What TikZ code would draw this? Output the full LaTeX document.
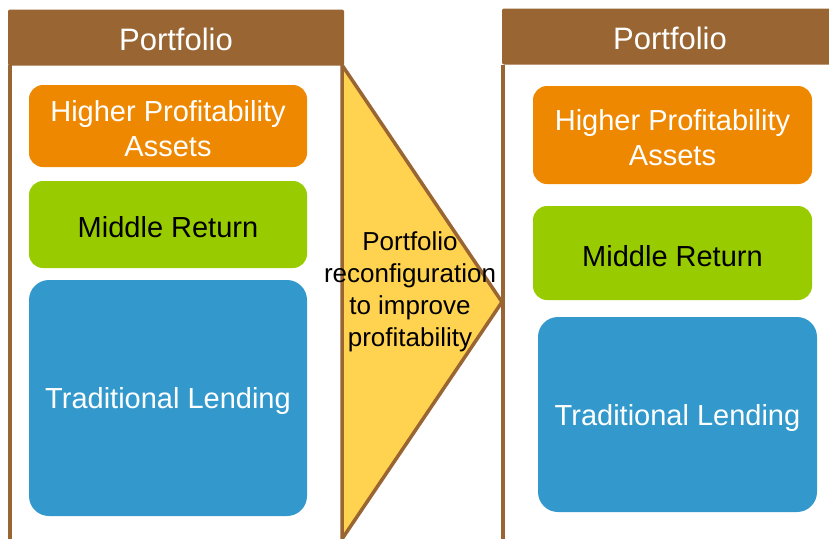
\documentclass[tikz,border=0pt]{standalone}
\usepackage{fontspec}
\setmainfont{Liberation Sans}
\definecolor{brownc}{HTML}{996633}
\definecolor{orangec}{HTML}{EE8800}
\definecolor{greenc}{HTML}{99CC00}
\definecolor{bluec}{HTML}{3399CC}
\definecolor{yellowc}{HTML}{FFD24F}
\begin{document}
\begin{tikzpicture}[x=1pt,y=-1pt,
  hdr/.style={fill=brownc, draw=none, rounded corners=2pt, minimum width=336pt, minimum height=56pt, inner sep=0pt},
  hdrtxt/.style={text=white, font=\fontsize{31}{36}\selectfont, inner sep=0pt},
  item/.style={draw=none, rounded corners=14pt, minimum width=278pt, inner sep=0pt},
  itxt/.style={align=center, inner sep=0pt, font=\fontsize{29}{35}\selectfont},
  border/.style={draw=brownc, line width=3.5pt}
]
\useasboundingbox (0,0) rectangle (829,538);
\begin{scope}
\clip (0,0) rectangle (829,538);
% left panel
\node[hdr] (hdrL) at (176,37.5) {};
\node[hdrtxt] (hdrLt) at ([yshift=-2pt]hdrL.center) {Portfolio};
\coordinate (lTop) at (10,65);
\coordinate (lBot) at (10,545);
\draw[border] (lTop) -- (lBot);
\node[item, fill=orangec, minimum height=82pt] (oL) at (168,126) {};
\node[itxt, text=white] (oLt) at ([yshift=-3pt]oL.center) {Higher Profitability\\Assets};
\node[item, fill=greenc, minimum height=87pt] (gL) at (168,224.5) {};
\node[itxt, text=black] (gLt) at ([yshift=-3pt]gL.center) {Middle Return};
\node[item, fill=bluec, minimum height=236pt, rounded corners=20pt] (bL) at (168,398) {};
\node[itxt, text=white] (bLt) at ([yshift=-3pt]bL.center) {Traditional Lending};
% right panel
\node[hdr] (hdrR) at (670,36.5) {};
\node[hdrtxt] (hdrRt) at ([yshift=-2pt]hdrR.center) {Portfolio};
\coordinate (rTop) at (503,65);
\coordinate (rBot) at (503,545);
\draw[border] (rTop) -- (rBot);
\node[item, fill=orangec, minimum width=279pt, minimum height=98pt] (oR) at (672.5,135) {};
\node[itxt, text=white] (oRt) at ([yshift=-3pt]oR.center) {Higher Profitability\\Assets};
\node[item, fill=greenc, minimum width=279pt, minimum height=94pt] (gR) at (672.5,253) {};
\node[itxt, text=black] (gRt) at ([yshift=-3pt]gR.center) {Middle Return};
\node[item, fill=bluec, minimum width=279pt, minimum height=195pt, rounded corners=20pt] (bR) at (677.5,414.5) {};
\node[itxt, text=white] (bRt) at ([yshift=-3pt]bR.center) {Traditional Lending};
% arrow triangle
\coordinate (tA) at (342,65);
\coordinate (tB) at (502,302);
\coordinate (tC) at (342,539);
\draw[border, fill=yellowc, line join=miter] (tA) -- (tB) -- (tC) -- cycle;
\node[align=center, font=\fontsize{26}{32}\selectfont, text=black, inner sep=0pt] (tT) at (410,292) {Portfolio\\reconfiguration\\to improve\\profitability};
\end{scope}
\end{tikzpicture}
\end{document}
